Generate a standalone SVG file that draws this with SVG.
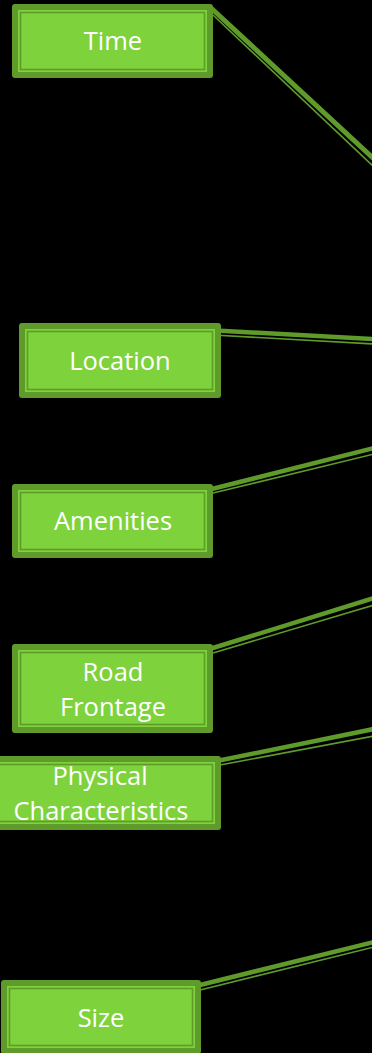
<svg xmlns="http://www.w3.org/2000/svg" width="372" height="1053" viewBox="0 0 372 1053">
<style>
.o{fill:#5f9b2b}
.f{fill:#7ed23c}
.i{fill:none;stroke:#5f9b2b;stroke-width:1.6}
.t{fill:#fff;font-family:"Open Sans",sans-serif;font-size:25.5px;text-anchor:middle}
.k{stroke:#5f9b2b;stroke-width:4.5;fill:none}
.n{stroke:#5f9b2b;stroke-width:1.6;fill:none}
.d{fill:#5f9b2b}
</style>
<rect width="372" height="1053" fill="#000"/>
<g id="connectors">
<line class="k" x1="211" y1="8" x2="374" y2="159" style="stroke-width:5"/>
<line class="n" x1="213" y1="15" x2="374" y2="167"/>
<line class="k" x1="207" y1="330" x2="374" y2="339"/>
<line class="n" x1="213" y1="335" x2="374" y2="344"/>
<circle class="d" cx="208" cy="332" r="4"/>
<line class="k" x1="200" y1="492" x2="374" y2="448"/>
<line class="n" x1="213" y1="493" x2="374" y2="454"/>
<circle class="d" cx="201" cy="492" r="4"/>
<line class="k" x1="200" y1="652" x2="374" y2="598"/>
<line class="n" x1="213" y1="653" x2="374" y2="605"/>
<circle class="d" cx="201" cy="652" r="4"/>
<line class="k" x1="207" y1="763" x2="374" y2="729"/>
<line class="n" x1="220" y1="765" x2="374" y2="736"/>
<circle class="d" cx="208" cy="764" r="4"/>
<line class="k" x1="188" y1="988" x2="374" y2="942"/>
<line class="n" x1="200" y1="990" x2="374" y2="947"/>
<circle class="d" cx="189" cy="988" r="4"/>
</g>
<g id="time">
<rect class="o" x="12" y="4" width="201" height="74" rx="3"/>
<rect class="f" x="18" y="10" width="189" height="62"/>
<rect class="i" x="20.5" y="12.5" width="184" height="57"/>
<text class="t" x="113" y="50">Time</text>
</g>
<g id="location">
<rect class="o" x="19" y="323" width="202" height="75" rx="3"/>
<rect class="f" x="25" y="329" width="190" height="63"/>
<rect class="i" x="27.5" y="331.5" width="185" height="58"/>
<text class="t" x="120" y="370">Location</text>
</g>
<g id="amenities">
<rect class="o" x="12" y="484" width="201" height="74" rx="3"/>
<rect class="f" x="18" y="490" width="189" height="62"/>
<rect class="i" x="20.5" y="492.5" width="184" height="57"/>
<text class="t" x="113" y="530">Amenities</text>
</g>
<g id="road-frontage">
<rect class="o" x="12" y="644" width="201" height="89" rx="3"/>
<rect class="f" x="18" y="650" width="189" height="77"/>
<rect class="i" x="20.5" y="652.5" width="184" height="72"/>
<text class="t" x="113" y="681">Road</text>
<text class="t" x="113" y="716">Frontage</text>
</g>
<g id="physical-characteristics">
<rect class="o" x="-3" y="756" width="224" height="74" rx="3"/>
<rect class="f" x="-2" y="762" width="217" height="62"/>
<rect class="i" x="-1" y="764.5" width="213.5" height="57"/>
<text class="t" x="100" y="785">Physical</text>
<text class="t" x="101" y="820">Characteristics</text>
</g>
<g id="size">
<rect class="o" x="1" y="980" width="200" height="74" rx="3"/>
<rect class="f" x="7" y="986" width="188" height="62"/>
<rect class="i" x="9.5" y="988.5" width="183" height="57"/>
<text class="t" x="101" y="1027">Size</text>
</g>
</svg>
